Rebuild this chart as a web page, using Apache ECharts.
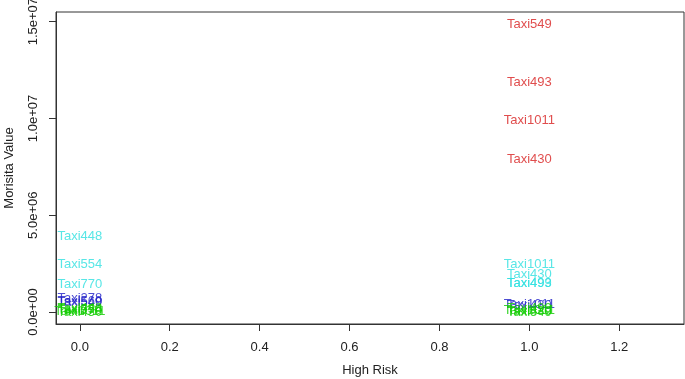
<!DOCTYPE html>
<html><head><meta charset="utf-8">
<script src="https://cdn.jsdelivr.net/npm/echarts@6/dist/echarts.min.js"></script>
<style>html,body{margin:0;padding:0;background:#fff}#c{width:685px;height:379px}</style>
</head><body><div id="c"></div>
<script>
// Red group (x = 1)
const redNames = ["Taxi549","Taxi493","Taxi1011","Taxi430"];
const redX = [1,1,1,1];
const redY = [14850000,11850000,9880000,7900000];
// Cyan group
const cyanNames = ["Taxi448","Taxi554","Taxi770","Taxi1011","Taxi430","Taxi499","Taxi493"];
const cyanX = [0,0,0,1,1,1,1];
const cyanY = [3930000,2480000,1450000,2480000,1950000,1480000,1500000];
// Blue group
const blueNames = ["Taxi278","Taxi560","Taxi549","Taxi1011","Taxi430"];
const blueX = [0,0,0,1,1];
const blueY = [720000,560000,480000,380000,330000];
// Green group
const greenNames = ["Taxi448","Taxi554","Taxi770","Taxi1011","Taxi430","Taxi499","Taxi1011","Taxi430","Taxi549"];
const greenX = [0,0,0,0,0,1,1,1,1];
const greenY = [200000,120000,60000,20000,0,160000,90000,30000,0];
// Axis ticks
const xTicks = [0,0.2,0.4,0.6,0.8,1.0,1.2];
const xTickLabels = ["0.0","0.2","0.4","0.6","0.8","1.0","1.2"];
const yTicks = [0,5000000,10000000,15000000];
const yTickLabels = ["0.0e+00","5.0e+06","1.0e+07","1.5e+07"];

const FONT = '"Liberation Sans", Arial, sans-serif';
function mk(names, xs, ys, color){
  return {
    type:'scatter', symbolSize:1, clip:false,
    itemStyle:{color:'transparent'},
    data: names.map((n,i)=>({value:[xs[i],ys[i]], name:n})),
    label:{show:true, position:'inside', formatter:p=>p.name, color:color,
      fontFamily:FONT, fontSize:13},
    labelLayout:{hideOverlap:false},
    emphasis:{disabled:true}, silent:true
  };
}
const xmap = {}; xTicks.forEach((v,i)=>xmap[v.toFixed(1)]=xTickLabels[i]);
const ymap = {}; yTicks.forEach((v,i)=>ymap[v]=yTickLabels[i]);
const chart = echarts.init(document.getElementById('c'));
chart.setOption({
  animation:false,
  grid:{left:56,right:1,top:12,bottom:55,containLabel:false,outerBoundsMode:'none',
    show:true,borderColor:'#333',borderWidth:1,backgroundColor:'transparent'},
  xAxis:{type:'value', min:-0.053, max:1.344,
    name:'High Risk', nameLocation:'middle', nameGap:40,
    nameTextStyle:{fontFamily:FONT,fontSize:13,color:'#222'},
    axisLine:{show:true,onZero:false,lineStyle:{color:'#333'}},
    axisTick:{show:true,length:7,customValues:xTicks,lineStyle:{color:'#333'}},
    axisLabel:{customValues:xTicks, formatter:v=>xmap[(+v).toFixed(1)]||'', margin:17,
      fontFamily:FONT,fontSize:13,color:'#222'},
    splitLine:{show:false}},
  yAxis:{type:'value', min:-620000, max:15500000,
    name:'Morisita Value', nameLocation:'middle', nameGap:40,
    nameTextStyle:{fontFamily:FONT,fontSize:13,color:'#222'},
    axisLine:{show:true,onZero:false,lineStyle:{color:'#333'}},
    axisTick:{show:true,length:7,customValues:yTicks,lineStyle:{color:'#333'}},
    axisLabel:{customValues:yTicks, formatter:v=>ymap[v]||'', rotate:90, margin:16,
      fontFamily:FONT,fontSize:13,color:'#222'},
    splitLine:{show:false}},
  series:[
    mk(redNames,redX,redY,'#D82020'),
    mk(cyanNames,cyanX,cyanY,'#2EE0E0'),
    mk(blueNames,blueX,blueY,'#2222C8'),
    mk(greenNames,greenX,greenY,'#11CC00')
  ]
});
</script></body></html>
